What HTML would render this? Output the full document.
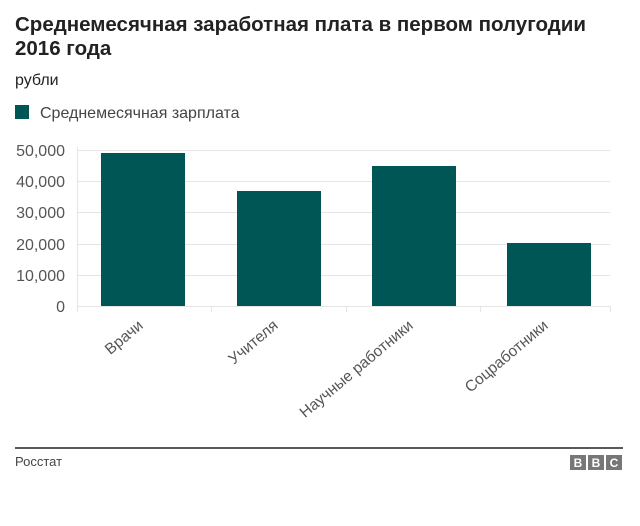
<!DOCTYPE html>
<html><head><meta charset="utf-8"><style>
body{margin:0;width:640px;height:521px;background:#fff;font-family:"Liberation Sans",Arial,sans-serif;overflow:hidden}
</style></head><body>
<svg width="640" height="521" xmlns="http://www.w3.org/2000/svg" font-family="Liberation Sans, Arial, sans-serif">
<text x="15" y="31" font-size="20.5" font-weight="bold" fill="#222">Среднемесячная заработная плата в первом полугодии</text>
<text x="15" y="55" font-size="20.5" font-weight="bold" fill="#222">2016 года</text>
<text x="15" y="85" font-size="16" fill="#222">рубли</text>
<rect x="15" y="105" width="14" height="14" fill="#005555"/>
<text x="40" y="118" font-size="16" fill="#444">Среднемесячная зарплата</text>
<g stroke="#e5e5e5" stroke-width="1">
<line x1="77" y1="150.5" x2="610" y2="150.5"/>
<line x1="77" y1="181.5" x2="610" y2="181.5"/>
<line x1="77" y1="212.5" x2="610" y2="212.5"/>
<line x1="77" y1="244.5" x2="610" y2="244.5"/>
<line x1="77" y1="275.5" x2="610" y2="275.5"/>
<line x1="77" y1="306.5" x2="610" y2="306.5"/>
<line x1="77.5" y1="147" x2="77.5" y2="312"/>
<line x1="211.5" y1="306" x2="211.5" y2="312"/>
<line x1="346.5" y1="306" x2="346.5" y2="312"/>
<line x1="480.5" y1="306" x2="480.5" y2="312"/>
<line x1="610.5" y1="306" x2="610.5" y2="312"/>
</g>
<g font-size="16" fill="#555" text-anchor="end">
<text x="65" y="156">50,000</text>
<text x="65" y="187">40,000</text>
<text x="65" y="218">30,000</text>
<text x="65" y="250">20,000</text>
<text x="65" y="281">10,000</text>
<text x="65" y="312">0</text>
</g>
<g fill="#005555">
<rect x="101" y="153" width="84" height="153"/>
<rect x="237" y="191" width="84" height="115"/>
<rect x="372" y="166" width="84" height="140"/>
<rect x="507" y="243" width="84" height="63"/>
</g>
<g font-size="15.5" fill="#555" text-anchor="end">
<text transform="translate(144,327) rotate(-40)">Врачи</text>
<text transform="translate(279,327) rotate(-40)">Учителя</text>
<text transform="translate(414,327) rotate(-40)">Научные работники</text>
<text transform="translate(549,327) rotate(-40)">Соцработники</text>
</g>
<line x1="15" y1="448" x2="623" y2="448" stroke="#222" stroke-width="1.5"/>
<text x="15" y="466" font-size="13" fill="#444">Росстат</text>
<g fill="#777"><rect x="570" y="455" width="16" height="15"/><rect x="588" y="455" width="16" height="15"/><rect x="606" y="455" width="16" height="15"/></g>
<g font-size="12" fill="#fff" font-weight="bold" text-anchor="middle">
<text x="578" y="467">B</text><text x="596" y="467">B</text><text x="614" y="467">C</text></g>
</svg>
</body></html>
